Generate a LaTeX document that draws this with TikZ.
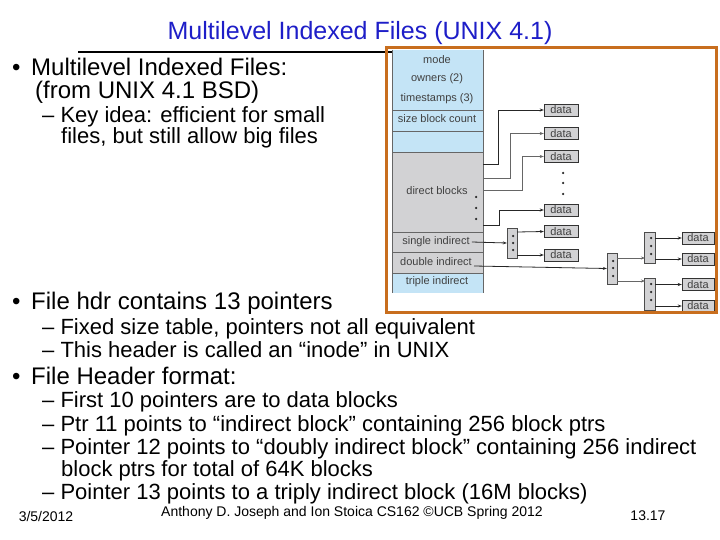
\documentclass[tikz,border=0pt]{standalone}
\usepackage{fontspec}
\setmainfont{Liberation Sans}
\usetikzlibrary{arrows.meta}
\definecolor{ttl}{RGB}{30,30,200}
\definecolor{inblue}{RGB}{196,228,246}
\definecolor{ingray}{RGB}{210,210,212}
\definecolor{orng}{RGB}{200,110,30}
\begin{document}
\begin{tikzpicture}[x=1pt,y=-1pt,
  lt/.style={anchor=base west,inner sep=0pt,font=\fontsize{24}{26}\selectfont},
  st/.style={anchor=base west,inner sep=0pt,font=\fontsize{22}{24}\selectfont},
  il/.style={inner sep=0pt,font=\fontsize{11}{12}\selectfont,text=black!75},
  dbox/.style={draw=black!80,fill=ingray,minimum width=34pt,minimum height=12pt,inner sep=0pt,font=\fontsize{11}{12}\selectfont,text=black!75},
  ibox/.style={draw=black!70,fill=ingray},
  ar/.style={-{Stealth[length=4pt,width=3pt]},black!85,line width=0.8pt},
  dt/.style={circle,fill=black!85,inner sep=0pt,minimum size=2.5pt}]
\useasboundingbox (0,0) rectangle (720,540);
\fill[white] (0,0) rectangle (720,540);
\node[font=\fontsize{25}{27}\selectfont,text=ttl,inner sep=0pt] (title) at (360,33) {Multilevel Indexed Files (UNIX 4.1)};
\draw[line width=2.5pt] (78,52) -- (392,52);
% bullets
\node[lt] (u1) at (12,76) {•};
\node[lt] (b1) at (31,76) {Multilevel Indexed Files:};
\node[lt] (b1b) at (35,99) {(from UNIX 4.1 BSD)};
\node[st] (s1) at (42,123) {– Key idea: efficient for small};
\node[st] (s1b) at (61,144) {files, but still allow big files};
\node[lt] (u2) at (12,309) {•};
\node[lt] (b2) at (31,309) {File hdr contains 13 pointers};
\node[st] (s2) at (42,334) {– Fixed size table, pointers not all equivalent};
\node[st] (s3) at (42,357) {– This header is called an “inode” in UNIX};
\node[lt] (u3) at (12,384) {•};
\node[lt] (b3) at (31,384) {File Header format:};
\node[st] (s4) at (42,407) {– First 10 pointers are to data blocks};
\node[st] (s5) at (42,431) {– Ptr 11 points to “indirect block” containing 256 block ptrs};
\node[st] (s6) at (42,454) {– Pointer 12 points to “doubly indirect block” containing 256 indirect};
\node[st] (s6b) at (61,476) {block ptrs for total of 64K blocks};
\node[st] (s7) at (42,499) {– Pointer 13 points to a triply indirect block (16M blocks)};
\node[inner sep=0pt,font=\fontsize{14}{15}\selectfont] (d) at (46,516) {3/5/2012};
\node[inner sep=0pt,font=\fontsize{14}{15}\selectfont] (a) at (352,513) {Anthony D. Joseph and Ion Stoica CS162 ©UCB Spring 2012};
\node[inner sep=0pt,font=\fontsize{14}{15}\selectfont] (p) at (648,516) {13.17};
% inode
\fill[inblue] (392,50) rectangle (483,152);
\fill[ingray] (392,152) rectangle (483,273);
\fill[inblue] (392,273) rectangle (483,293);
\draw[black!60] (392,50) -- (392,293) (483,50) -- (483,293);
\foreach \y in {110,131,152,232,252,273} \draw[black!60,line width=0.8pt] (392,\y) -- (483,\y);
\node[il] (m) at (437,60) {mode};
\node[il] (o) at (437,79) {owners (2)};
\node[il] (t) at (437,99) {timestamps (3)};
\node[il] (sz) at (437,119) {size block count};
\node[il] (db) at (437,191) {direct blocks};
\node[il] (si) at (436,242) {single indirect};
\node[il] (di) at (436,262) {double indirect};
\node[il] (ti) at (437,282) {triple indirect};
\foreach \y in {197,208,219} \node[dt] at (476,\y) {};
% data boxes
\node[dbox] (d1) at (561,110) {data};
\node[dbox] (d2) at (561,133.5) {data};
\node[dbox] (d3) at (561,156.5) {data};
\node[dbox] (d4) at (561,210) {data};
\node[dbox] (d5) at (561,231.5) {data};
\node[dbox] (d6) at (561,255) {data};
\foreach \y in {173,183,194} \node[dt] at (563,\y) {};
\draw[ar] (483,164) -- (498,164) |- (d1.west);
\draw[ar,black!60] (483,178) -- (510,178) |- (d2.west);
\draw[ar,black!60] (483,190) -- (522,190) |- (d3.west);
\draw[ar] (483,225) -- (499,225) |- (d4.west);
% single indirect
\node[ibox,minimum width=10pt,minimum height=30pt,inner sep=0pt] (ib1) at (512,243) {};
\foreach \y in {236,243,250} \node[dt] at (513,\y) {};
\draw[ar] (si.east) ++(2,0) -- (ib1.west);
\draw[ar] (517,232) -- (d5.west);
\draw[ar] (517,255) -- (d6.west);
% double indirect
\node[ibox,minimum width=10pt,minimum height=31pt,inner sep=0pt] (ib2) at (612,268.5) {};
\foreach \y in {261,268,276} \node[dt] at (613,\y) {};
\draw[ar] (474,266) -- (ib2.west);
\node[ibox,minimum width=11pt,minimum height=31pt,inner sep=0pt] (ib3) at (649.5,247.5) {};
\node[ibox,minimum width=11pt,minimum height=32pt,inner sep=0pt] (ib4) at (649.5,294) {};
\foreach \y in {238,246,254} \node[dt] at (651,\y) {};
\foreach \y in {284,292,300} \node[dt] at (651,\y) {};
\draw[ar,black!60] (617,258) -- (645,258);
\draw[ar,black!60] (617,281) -- (645,281);
\node[dbox,minimum width=32pt] (e1) at (698,238) {data};
\node[dbox,minimum width=32pt] (e2) at (698,259) {data};
\node[dbox,minimum width=32pt] (e3) at (698,284.5) {data};
\node[dbox,minimum width=32pt] (e4) at (698,306) {data};
\draw[ar] (655,238) -- (e1.west);
\draw[ar] (655,259) -- (e2.west);
\draw[ar] (655,284.5) -- (e3.west);
\draw[ar] (655,306) -- (e4.west);
% orange frame, covering clipped parts
\fill[white] (716,220) rectangle (720,320);
\fill[white] (640,312) rectangle (720,320);
\draw[orng,line width=3pt] (386,48) rectangle (716,312);
\end{tikzpicture}
\end{document}
